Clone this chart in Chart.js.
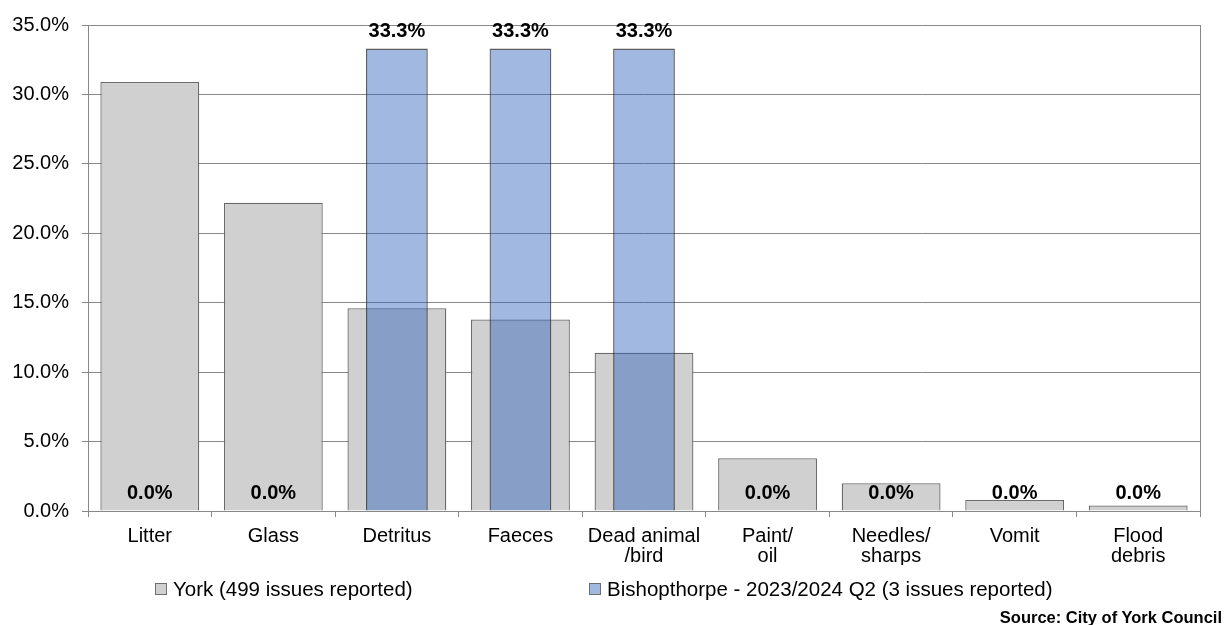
<!DOCTYPE html>
<html>
<head>
<meta charset="utf-8">
<script src="https://cdn.jsdelivr.net/npm/chart.js@4"></script>
<style>
  body { margin: 0; background: #fff; }
  #wrap { position: relative; width: 1225px; height: 625px; font-family: "Liberation Sans", Arial, sans-serif; }
  .leg { position: absolute; top: 577px; font-size: 20.5px; line-height: 24px; color: #000; white-space: nowrap; }
  .leg i { position: absolute; left: 0; top: 6px; width: 10px; height: 10px; border: 1px solid #6f6f6f; }
  .leg span { padding-left: 18px; }
  #source { position: absolute; right: 3px; top: 607px; font-size: 16.5px; line-height: 20px; font-weight: bold; }
</style>
</head>
<body>
<div id="wrap">
  <canvas id="issuesChart" width="1225" height="625"></canvas>
  <div class="leg" style="left:155px"><i style="background:#d0d0d0"></i><span>York (499 issues reported)</span></div>
  <div class="leg" style="left:589px"><i style="background:#a1b8e1"></i><span>Bishopthorpe - 2023/2024 Q2 (3 issues reported)</span></div>
  <div id="source">Source: City of York Council</div>
</div>
<script>
var categories = ['Litter', 'Glass', 'Detritus', 'Faeces', ['Dead animal', '/bird'], ['Paint/', 'oil'], ['Needles/', 'sharps'], 'Vomit', ['Flood', 'debris']];
var york = [30.9, 22.2, 14.6, 13.8, 11.4, 3.8, 2.0, 0.8, 0.4];
var bishopthorpe = [0, 0, 33.3, 33.3, 33.3, 0, 0, 0, 0];
var yTicks = [0, 5, 10, 15, 20, 25, 30, 35];

var font = "'Liberation Sans', Arial, sans-serif";

// labels above the Bishopthorpe bars
var valueLabels = {
  id: 'valueLabels',
  afterDatasetsDraw: function(chart) {
    var ctx = chart.ctx;
    var meta = chart.getDatasetMeta(1);
    ctx.save();
    ctx.font = 'bold 20px ' + font;
    ctx.fillStyle = '#000';
    ctx.textAlign = 'center';
    ctx.textBaseline = 'alphabetic';
    meta.data.forEach(function(bar, i) {
      ctx.fillText(bishopthorpe[i].toFixed(1) + '%', bar.x, bar.y - 12);
    });
    ctx.restore();
  }
};

new Chart(document.getElementById('issuesChart'), {
  type: 'bar',
  data: {
    labels: categories,
    datasets: [{
      label: 'York (499 issues reported)',
      data: york,
      backgroundColor: '#d0d0d0',
      borderColor: '#6a6a6a',
      borderWidth: 1.3,
      barPercentage: 0.8,
      categoryPercentage: 1,
      order: 1
    }, {
      label: 'Bishopthorpe - 2023/2024 Q2 (3 issues reported)',
      data: bishopthorpe,
      backgroundColor: 'rgba(47,98,188,0.45)',
      borderColor: 'rgba(40,40,40,0.75)',
      borderWidth: 1.3,
      barPercentage: 0.5,
      categoryPercentage: 1,
      order: 0
    }]
  },
  options: {
    responsive: false,
    animation: false,
    grouped: false,
    layout: { padding: { left: 0, right: 25, top: 24, bottom: 60 } },
    plugins: { legend: { display: false }, tooltip: { enabled: false } },
    scales: {
      x: {
        grid: { drawOnChartArea: false, drawTicks: true, tickLength: 6, color: '#888', offset: true },
        border: { color: '#888' },
        ticks: { color: '#000', font: { family: font, size: 20, lineHeight: 1.0 }, padding: 9, maxRotation: 0, autoSkip: false },
        afterFit: function(scale) { scale.height = 54; }
      },
      y: {
        min: 0,
        max: 35,
        afterBuildTicks: function(scale) { scale.ticks = yTicks.map(function(v) { return { value: v }; }); },
        grid: { color: '#888', tickLength: 6 },
        border: { color: '#888' },
        ticks: {
          color: '#000',
          font: { family: font, size: 20 },
          padding: 13,
          callback: function(v) { return v.toFixed(1) + '%'; }
        },
        afterFit: function(scale) { scale.width = 88; }
      },
      y2: {
        position: 'right',
        min: 0,
        max: 35,
        grid: { display: false },
        border: { color: '#888' },
        ticks: { display: false },
        afterFit: function(scale) { scale.width = 0; }
      }
    }
  },
  plugins: [valueLabels]
});
</script>
</body>
</html>
